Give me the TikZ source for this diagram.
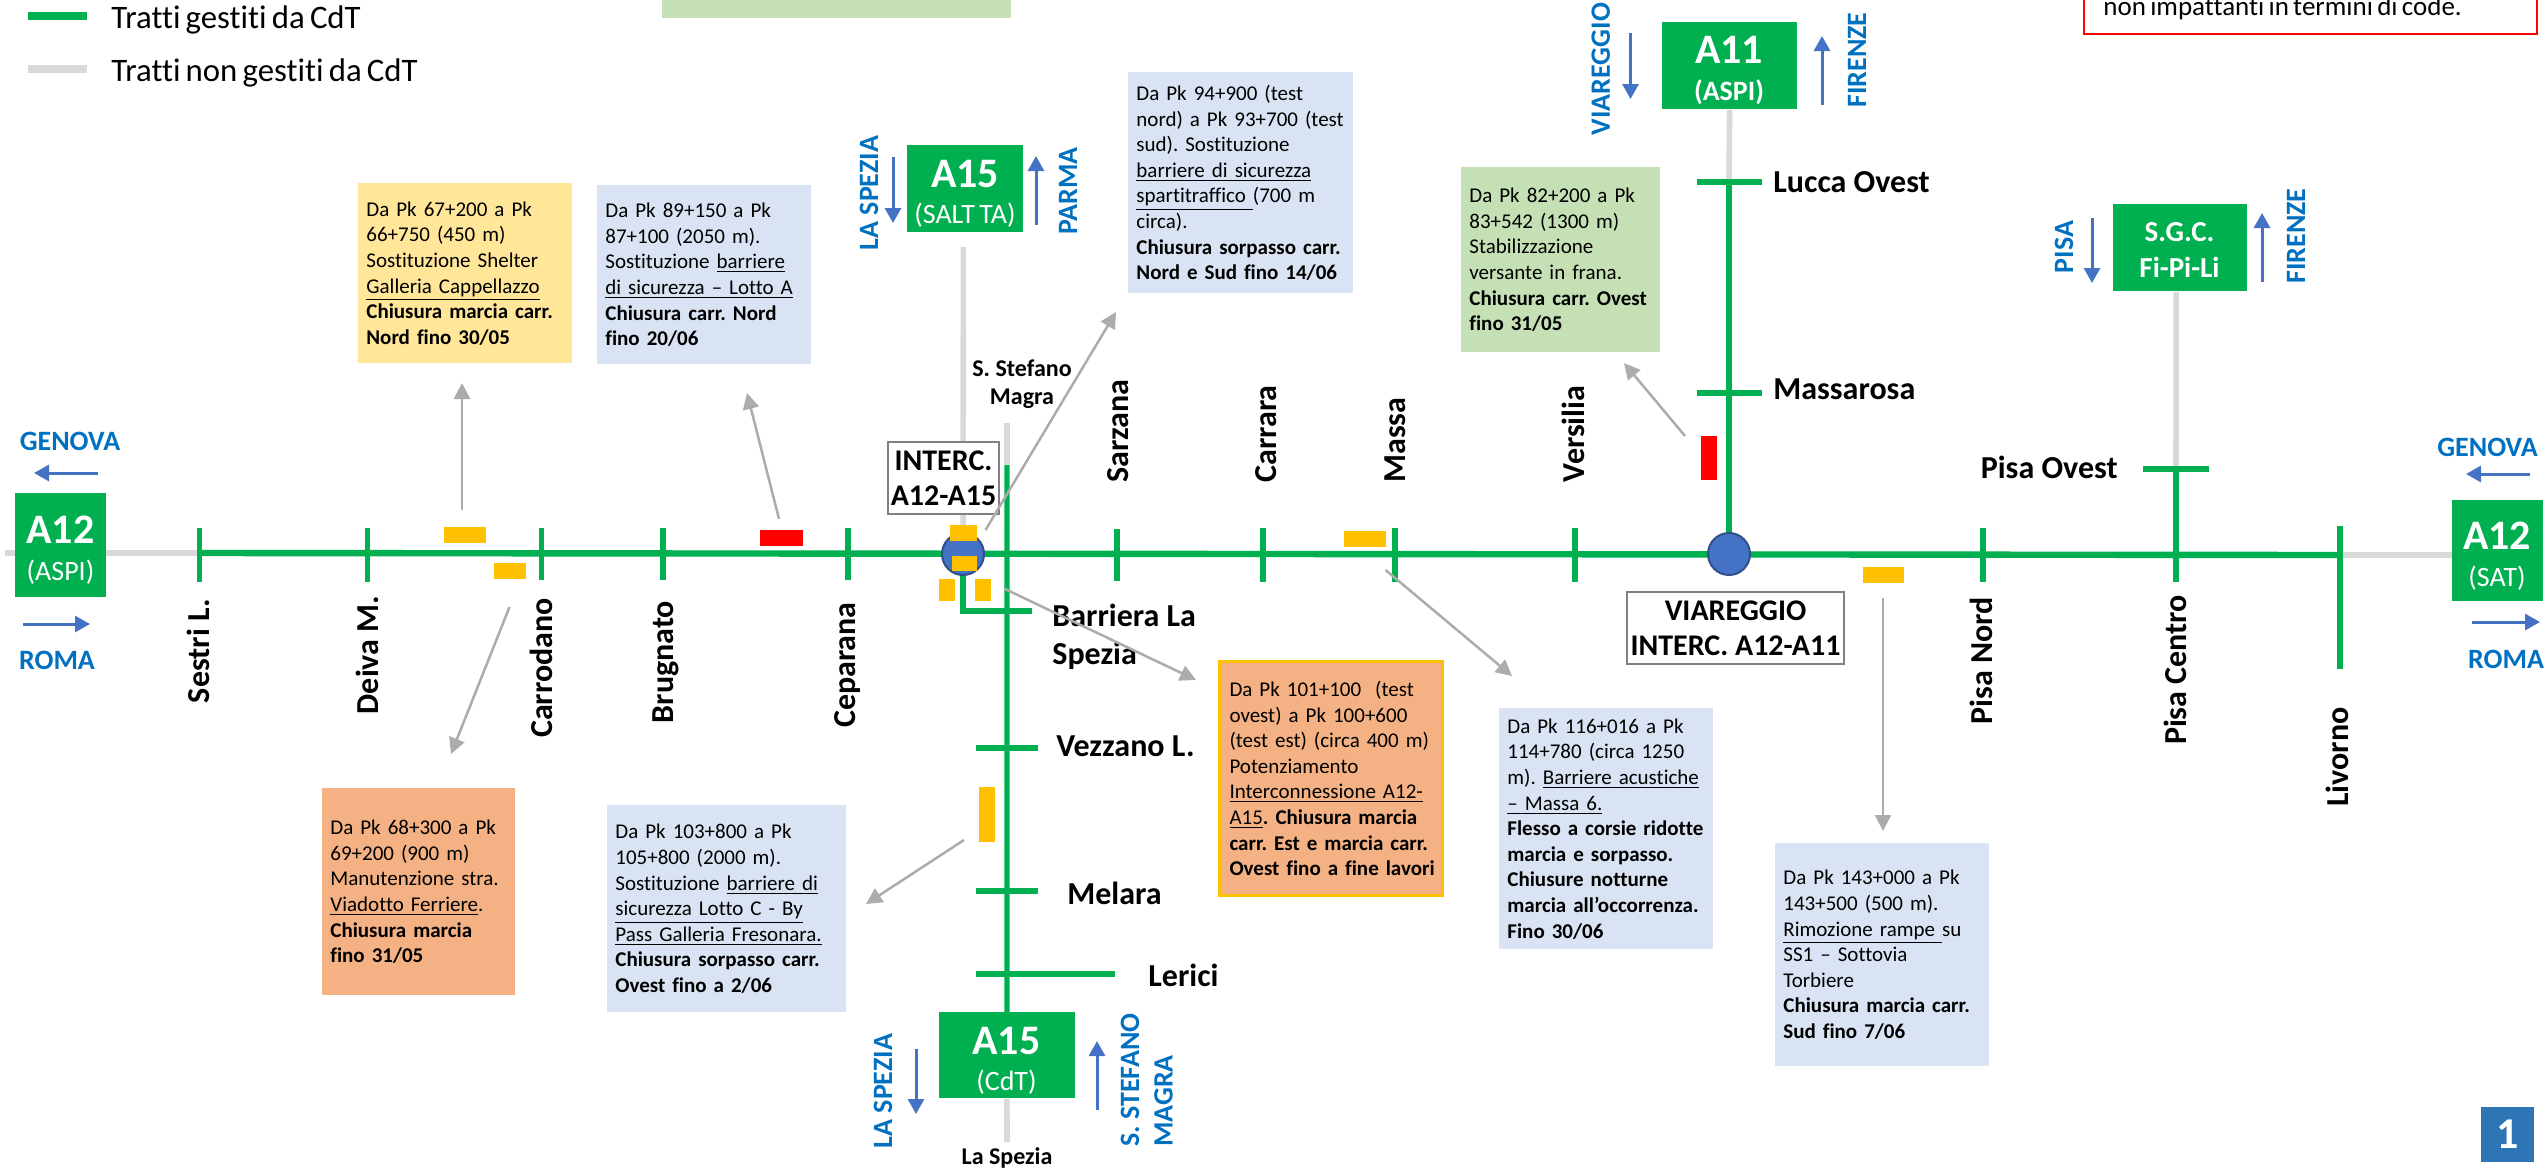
\documentclass[tikz,border=0pt]{standalone}
\usepackage{fontspec}
\setmainfont{Carlito}[Ligatures={TeX,NoCommon},WordSpace=0.7,BoldFeatures={WordSpace=1}]
\usetikzlibrary{arrows.meta}
\definecolor{cdtgreen}{HTML}{00B050}
\definecolor{roadgray}{HTML}{D9D9D9}
\definecolor{arrgray}{HTML}{AEABAB}
\definecolor{dirblue}{HTML}{4472C4}
\definecolor{dirtext}{HTML}{0070C0}
\definecolor{worky}{HTML}{FFC000}
\definecolor{boxblue}{HTML}{DAE3F3}
\definecolor{boxgreen}{HTML}{C5E0B4}
\definecolor{boxyellow}{HTML}{FFE699}
\definecolor{boxorange}{HTML}{F4B183}
\definecolor{badge}{HTML}{2E75B6}
\tikzset{
  roadg/.style={draw=cdtgreen,line width=2.6pt},
  roadn/.style={draw=roadgray,line width=2.8pt},
  tickmark/.style={fill=cdtgreen,inner sep=0pt,minimum width=2.6pt},
  tickh/.style={fill=cdtgreen,inner sep=0pt,minimum height=3pt},
  work/.style={fill=worky,inner sep=0pt},
  workred/.style={fill=red,inner sep=0pt},
  infobox/.style={anchor=north west,inner xsep=4pt,inner ysep=0pt,align=left,
     font=\fontsize{10.5}{12.8}\selectfont},
  sign/.style={fill=cdtgreen,inner sep=0pt,anchor=north west},
  signbig/.style={text=white,font=\fontsize{21}{24}\selectfont\bfseries,inner sep=0pt},
  signsmall/.style={text=white,font=\fontsize{14}{16}\selectfont,inner sep=0pt},
  signbold/.style={text=white,font=\fontsize{14}{16}\selectfont\bfseries,inner sep=0pt},
  signgc/.style={text=white,font=\fontsize{14.5}{16}\selectfont\bfseries,inner sep=0pt},
  place/.style={font=\fontsize{16}{19}\selectfont\bfseries,inner sep=0pt},
  placerot/.style={place,rotate=90},
  minor/.style={font=\fontsize{12}{14}\selectfont\bfseries,inner sep=0pt,align=center},
  dirh/.style={text=dirtext,font=\fontsize{14}{17}\selectfont\bfseries,inner sep=0pt},
  dirv/.style={dirh,rotate=90},
  dirarrow/.style={draw=dirblue,line width=1.5pt,-{Triangle[length=7.5pt,width=8pt]}},
  callout/.style={draw=arrgray,line width=1.25pt,-{Triangle[length=8pt,width=8pt]}},
  junction/.style={circle,fill=dirblue,draw=black!30!dirblue,line width=1pt,minimum size=21pt,inner sep=0pt},
  tagbox/.style={draw=black!50,line width=1pt,fill=white,align=center,inner sep=0pt,
     font=\fontsize{15}{17.5}\selectfont\bfseries},
  legend/.style={font=\fontsize{16.4}{19}\selectfont,inner sep=0pt,anchor=west},
}
\begin{document}
\frenchspacing
\begin{tikzpicture}[x=0.5pt,y=-0.5pt]
\useasboundingbox (0,0) rectangle (2547,1167);

% legend
\coordinate (lg1a) at (28,16); \coordinate (lg1b) at (87,16);
\coordinate (lg2a) at (28,69); \coordinate (lg2b) at (87,69);
\draw[draw=cdtgreen,line width=4pt] (lg1a) -- (lg1b);
\draw[draw=roadgray,line width=4pt] (lg2a) -- (lg2b);
\node[legend] (lgt1) at (111,20) {Tratti gestiti da CdT};
\node[legend] (lgt2) at (111,73) {Tratti non gestiti da CdT};

% top boxes, cut by the page
\node[fill=boxgreen,inner sep=0pt,anchor=north west,minimum width=174.5pt,minimum height=14pt] (topgreen) at (662,-10) {};
\node[draw=red,line width=1pt,fill=white,inner sep=0pt,anchor=north west,minimum width=226.5pt,minimum height=21.5pt] (topred) at (2083,-10) {};
\node[inner sep=0pt,anchor=base west,font=\fontsize{13.5}{15}\selectfont] (toptext) at (2103,15) {non impattanti in termini di code.};

% reference points of the roads
\coordinate (mainL) at (199,553);
\coordinate (mainR) at (2340,555);
\coordinate (farL) at (5,553);
\coordinate (a12lw) at (15,553);
\coordinate (a12le) at (106,553);
\coordinate (a12rw) at (2452,555);
\coordinate (j1) at (963,554);
\coordinate (j2) at (1729,554);
\coordinate (mag) at (1007,423);
\coordinate (mag2) at (1007,465);
\coordinate (spez) at (1007,1142);
\coordinate (lcorner) at (963,611);

% signs
\node[sign,minimum width=45.5pt,minimum height=52pt] (a12l) at (15,493) {};
\node[sign,minimum width=45.5pt,minimum height=50.5pt] (a12r) at (2452,500) {};
\node[sign,minimum width=58pt,minimum height=43.5pt] (a15n) at (907,145) {};
\node[sign,minimum width=68pt,minimum height=43pt] (a15s) at (938.5,1012) {};
\node[sign,minimum width=67.2pt,minimum height=43.5pt] (a11) at (1662,22) {};
\node[sign,minimum width=67.2pt,minimum height=43.5pt] (sgc) at (2112.5,204) {};

% grey roads
\draw[roadn] (farL) -- (a12lw);
\draw[roadn] (a12le) -- (mainL);
\draw[roadn] (mainR) -- (a12rw);
\draw[roadn] (a15n.south) ++(-2,14) coordinate (a15top) -- (j1);
\draw[roadn] (mag) -- (mag2);
\draw[roadn] (a15s.south) -- (spez);
\draw[roadn] (a11.south) -- (1729,182) coordinate (lucca);
\draw[roadn] (sgc.south) ++(-4,0) coordinate (sgcb) -- (2176,469) coordinate (pisaov);

% ticks on the main road
\node[tickmark,minimum height=27pt] (tSes) at (199.5,555) {};
\node[tickmark,minimum height=27pt] (tDei) at (367.5,555) {};
\node[tickmark,minimum height=26pt] (tCar) at (541.5,554) {};
\node[tickmark,minimum height=26pt] (tBru) at (663,554) {};
\node[tickmark,minimum height=26pt] (tCep) at (848,554) {};
\node[tickmark,minimum height=26pt] (tSar) at (1117,555) {};
\node[tickmark,minimum height=27pt] (tCrr) at (1263,555) {};
\node[tickmark,minimum height=27pt] (tMas) at (1395,555) {};
\node[tickmark,minimum height=27pt] (tVer) at (1575,555) {};
\node[tickmark,minimum height=27pt] (tPin) at (1983,555) {};
\node[tickmark,minimum height=71.5pt] (tLiv) at (2340,597.5) {};
\coordinate (pisac) at (2176,582);

% green roads
\draw[draw=cdtgreen,line width=3.2pt] (mainL) -- (mainR);
\draw[roadg] (pisaov) -- (pisac);
\draw[roadg] (lucca) -- (j2);
\draw[roadg] (mag2) -- (a15s.north);
\draw[roadg,line join=miter] (j1) -- (lcorner) -- (1032,611) coordinate (lend);

% horizontal ticks
\node[tickh,minimum width=32.5pt] (tLuc) at (1729.5,182) {};
\node[tickh,minimum width=32.5pt] (tMsr) at (1729.5,393) {};
\node[tickh,minimum width=33pt] (tPio) at (2176,469) {};
\node[tickh,minimum width=31pt] (tVez) at (1007,748) {};
\node[tickh,minimum width=31pt] (tMel) at (1007,891) {};
\node[tickh,minimum width=69.5pt] (tLer) at (1045.5,974) {};

% junctions
\node[junction] (jn1) at (j1) {};
\node[junction] (jn2) at (j2) {};

% works
\node[work,minimum width=21pt,minimum height=8pt] (w1) at (465,535) {};
\node[work,minimum width=16pt,minimum height=8pt] (w2) at (510,571) {};
\node[workred,minimum width=21.5pt,minimum height=8pt] (w3) at (781.5,538) {};
\node[work,minimum width=13.5pt,minimum height=8pt] (w4) at (963.5,533) {};
\node[work,minimum width=12.5pt,minimum height=7.5pt] (w5) at (964.5,563.5) {};
\node[work,minimum width=8pt,minimum height=11pt] (w6) at (947,590) {};
\node[work,minimum width=8pt,minimum height=11pt] (w7) at (983,590) {};
\node[work,minimum width=21pt,minimum height=8pt] (w8) at (1365,539) {};
\node[workred,minimum width=8pt,minimum height=22pt] (w9) at (1709,458) {};
\node[work,minimum width=20.5pt,minimum height=8pt] (w10) at (1883.5,575) {};
\node[work,minimum width=8pt,minimum height=27.5pt] (w11) at (987,814.5) {};

% sign texts
\node[signbig] (a12lt) at (60.5,530) {A12};
\node[signsmall] (a12ls) at (60.5,572) {(ASPI)};
\node[signbig] (a12rt) at (2497,536) {A12};
\node[signsmall] (a12rs) at (2497,578) {(SAT)};
\node[signbig] (a15nt) at (965,174) {A15};
\node[signsmall] (a15ns) at (965,215) {(SALT TA)};
\node[signbig] (a15st) at (1006.5,1041) {A15};
\node[signsmall] (a15ss) at (1006.5,1082) {(CdT)};
\node[signbig] (a11t) at (1729,50) {A11};
\node[signbold] (a11s) at (1729,92) {(ASPI)};
\node[signgc] (sgct) at (2179.5,232) {S.G.C.};
\node[signgc] (sgcs) at (2179.5,267) {Fi-Pi-Li};

% direction labels and arrows
\node[dirh] (gl) at (70,441) {GENOVA};
\node[dirh] (rl) at (57,660) {ROMA};
\node[dirh] (gr) at (2487.5,447) {GENOVA};
\node[dirh] (rr) at (2506,659) {ROMA};
\coordinate (d1a) at (98,473); \coordinate (d1b) at (34,473);
\coordinate (d2a) at (23,624); \coordinate (d2b) at (90,624);
\coordinate (d3a) at (2530,474); \coordinate (d3b) at (2466,474);
\coordinate (d4a) at (2472,622); \coordinate (d4b) at (2540,622);
\draw[dirarrow] (d1a) -- (d1b);
\draw[dirarrow] (d2a) -- (d2b);
\draw[dirarrow] (d3a) -- (d3b);
\draw[dirarrow] (d4a) -- (d4b);
\node[dirv] (ls1) at (869,193) {LA SPEZIA};
\node[dirv] (pr) at (1068,191) {PARMA};
\coordinate (d5a) at (893,157); \coordinate (d5b) at (893,223);
\coordinate (d6a) at (1036,225); \coordinate (d6b) at (1036,156);
\draw[dirarrow] (d5a) -- (d5b);
\draw[dirarrow] (d6a) -- (d6b);
\node[dirv] (vi) at (1600.7,69) {VIAREGGIO};
\node[dirv] (fi1) at (1857,60) {FIRENZE};
\coordinate (d7a) at (1630.5,33); \coordinate (d7b) at (1630.5,99);
\coordinate (d8a) at (1822,105); \coordinate (d8b) at (1822,36);
\draw[dirarrow] (d7a) -- (d7b);
\draw[dirarrow] (d8a) -- (d8b);
\node[dirv] (pi) at (2064,247) {PISA};
\node[dirv] (fi2) at (2296,236) {FIRENZE};
\coordinate (d9a) at (2092,218); \coordinate (d9b) at (2092,283);
\coordinate (d10a) at (2262,282); \coordinate (d10b) at (2262,213);
\draw[dirarrow] (d9a) -- (d9b);
\draw[dirarrow] (d10a) -- (d10b);
\node[dirv] (ls2) at (883,1091) {LA SPEZIA};
\node[dirv] (sst) at (1130,1080) {S. STEFANO};
\node[dirv] (mg) at (1163.5,1101) {MAGRA};
\coordinate (d11a) at (916,1049); \coordinate (d11b) at (916,1114);
\coordinate (d12a) at (1097,1110); \coordinate (d12b) at (1097,1041);
\draw[dirarrow] (d11a) -- (d11b);
\draw[dirarrow] (d12a) -- (d12b);

% place names
\node[placerot] (nSes) at (198,651) {Sestri L.};
\node[placerot] (nDei) at (367,655) {Deiva M.};
\node[placerot] (nCar) at (541,668) {Carrodano};
\node[placerot] (nBru) at (666,662) {Brugnato};
\node[placerot] (nCep) at (848,665) {Ceparana};
\node[placerot] (nSar) at (1118,431) {Sarzana};
\node[placerot] (nCrr) at (1266,434) {Carrara};
\node[placerot] (nMas) at (1395,440) {Massa};
\node[placerot] (nVer) at (1573,434) {Versilia};
\node[placerot] (nPin) at (1981,661) {Pisa Nord};
\node[placerot] (nPic) at (2175,670) {Pisa Centro};
\node[placerot] (nLiv) at (2337,757) {Livorno};
\node[place,anchor=west] (nLuc) at (1773,182) {Lucca Ovest};
\node[place,anchor=west] (nMsr) at (1773,389) {Massarosa};
\node[place,anchor=east] (nPio) at (2118,467) {Pisa Ovest};
\node[place,anchor=north west,align=left,font=\fontsize{16}{19}\selectfont\bfseries] (nBar) at (1052,604) {Barriera La\\Spezia};
\node[place,anchor=west] (nVez) at (1056,746) {Vezzano L.};
\node[place,anchor=west] (nMel) at (1067,893) {Melara};
\node[place,anchor=west] (nLer) at (1148,975) {Lerici};
\node[minor] (nSte) at (1022,384) {S. Stefano\\Magra};
\node[minor] (nLsp) at (1007,1158) {La Spezia};

% tags
\node[tagbox,anchor=north west,minimum width=55.5pt,minimum height=36pt] (tagA) at (887,441) {INTERC.\\A12-A15};
\node[tagbox,anchor=north west,minimum width=108.5pt,minimum height=36pt] (tagB) at (1626,591) {VIAREGGIO\\INTERC. A12-A11};

% info boxes
\node[infobox,fill=boxyellow,minimum width=107pt,minimum height=90pt,text width=99pt] (b1) at (358,183)
 {Da Pk 67+200 a Pk\\66+750 (450 m)\\Sostituzione Shelter\\\underline{Galleria Cappellazzo}\\\textbf{Chiusura marcia carr.}\\\textbf{Nord fino 30/05}};
\node[infobox,fill=boxblue,minimum width=107pt,minimum height=89.5pt,text width=99pt] (b2) at (597,185)
 {Da Pk 89+150 a Pk\\87+100 (2050 m).\\Sostituzione \underline{barriere}\\\underline{di sicurezza – Lotto A}\\\textbf{Chiusura carr. Nord}\\\textbf{fino 20/06}};
\node[infobox,fill=boxblue,minimum width=112.5pt,minimum height=110.5pt,text width=104.5pt] (b3) at (1128,72)
 {Da Pk 94+900 (test\\nord) a Pk 93+700 (test\\sud). Sostituzione\\\underline{barriere di sicurezza}\\\underline{spartitraffico }(700 m\\circa).\\\textbf{Chiusura sorpasso carr.}\\\textbf{Nord e Sud fino 14/06}};
\node[infobox,fill=boxgreen,minimum width=99.5pt,minimum height=92.5pt,text width=91.5pt] (b4) at (1461,167)
 {Da Pk 82+200 a Pk\\83+542 (1300 m)\\Stabilizzazione\\versante in frana.\\\textbf{Chiusura carr. Ovest}\\\textbf{fino 31/05}};
\node[infobox,fill=boxorange,minimum width=96.5pt,minimum height=103.5pt,text width=88.5pt] (b5) at (322,788)
 {Da Pk 68+300 a Pk\\69+200 (900 m)\\Manutenzione stra.\\\underline{Viadotto Ferriere}.\\\textbf{Chiusura marcia}\\\textbf{fino 31/05}};
\node[infobox,fill=boxblue,minimum width=119.5pt,minimum height=103.5pt,text width=111.5pt] (b6) at (607,805)
 {Da Pk 103+800 a Pk\\105+800 (2000 m).\\Sostituzione \underline{barriere di}\\\underline{sicurezza Lotto C - By}\\\underline{Pass Galleria Fresonara.}\\\textbf{Chiusura sorpasso carr.}\\\textbf{Ovest fino a 2/06}};
\node[infobox,fill=boxorange,draw=worky,line width=1.5pt,minimum width=111.5pt,minimum height=117pt,text width=101.5pt] (b7) at (1218,660)
 {Da Pk 101+100 \ (test\\ovest) a Pk 100+600\\(test est) (circa 400 m)\\Potenziamento\\\underline{Interconnessione A12-}\\\underline{A15}\textbf{. Chiusura marcia}\\\textbf{carr. Est e marcia carr.}\\\mbox{\textbf{Ovest fino a fine lavori}}};
\node[infobox,fill=boxblue,minimum width=107pt,minimum height=120.5pt,text width=99pt] (b8) at (1499,708)
 {Da Pk 116+016 a Pk\\114+780 (circa 1250\\m). \underline{Barriere acustiche}\\\underline{– Massa 6.}\\\textbf{Flesso a corsie ridotte}\\\textbf{marcia e sorpasso.}\\\textbf{Chiusure notturne}\\\textbf{marcia all’occorrenza.}\\\textbf{Fino 30/06}};
\node[infobox,fill=boxblue,minimum width=107pt,minimum height=111.5pt,text width=99pt] (b9) at (1775,843)
 {Da Pk 143+000 a Pk\\143+500 (500 m).\\\underline{Rimozione rampe }su\\SS1 – Sottovia\\Torbiere\\\textbf{Chiusura marcia carr.}\\\textbf{Sud fino 7/06}};

% callout arrows
\coordinate (c1a) at (462,510); \coordinate (c1b) at (462,383);
\coordinate (c2a) at (779,519); \coordinate (c2b) at (747,393);
\coordinate (c3a) at (509.5,607); \coordinate (c3b) at (451,754);
\coordinate (c4a) at (985.5,530); \coordinate (c4b) at (1116,312);
\coordinate (c5a) at (1005,589); \coordinate (c5b) at (1196,680);
\coordinate (c6a) at (1385.5,570); \coordinate (c6b) at (1512,676);
\coordinate (c7a) at (1685,436); \coordinate (c7b) at (1624,363);
\coordinate (c8a) at (964,840); \coordinate (c8b) at (866,904);
\coordinate (c9a) at (1883,598); \coordinate (c9b) at (1883,831);
\foreach \i in {1,...,9} \draw[callout] (c\i a) -- (c\i b);

% page badge
\node[fill=badge,text=white,inner sep=0pt,minimum width=26.5pt,minimum height=27.5pt,font=\fontsize{22}{24}\selectfont\bfseries] (pg) at (2507.5,1134.5) {1};
\end{tikzpicture}
\end{document}
